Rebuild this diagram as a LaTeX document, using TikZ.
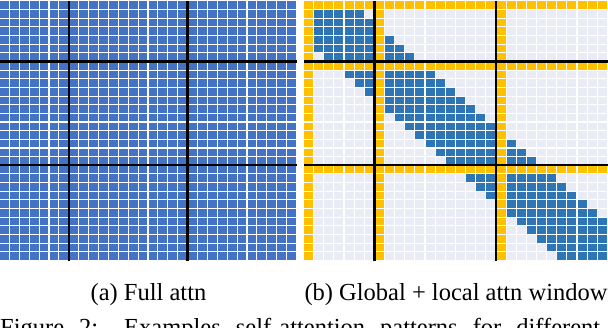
\documentclass[tikz,border=0pt]{standalone}
\usepackage{fontspec}
\setmainfont{Liberation Serif}
\definecolor{fullblue}{RGB}{68,114,196}
\definecolor{localblue}{RGB}{46,117,182}
\definecolor{globalyellow}{RGB}{255,192,0}
\definecolor{emptygray}{RGB}{233,235,245}
\usetikzlibrary{positioning}
\tikzset{
    cell/.style={fill=#1},
    blocksep/.style={draw=black, line width=2.4pt},
    caption/.style={font=\fontsize{24.5}{29}\selectfont, text=black, inner sep=0pt}
}

\begin{document}
\begin{tikzpicture}[x=1pt, y=-1pt]
    \useasboundingbox (0,0) rectangle (608,328);
    \clip (0,0) rectangle (608,328);

    % (a) Full attention - every cell filled
    \foreach \r in {0,...,29}{
        \foreach \c in {0,...,29}{
            \fill[cell=fullblue] (\c*9.9, 1.5+\r*8.65) rectangle ++(8.8, 7.55);
        }
    }

    % (b) Global tokens (0, 7, 19) + local window of 4
    \foreach \r in {0,...,29}{
        \foreach \c in {0,...,29}{
            \pgfmathtruncatemacro{\isglob}{(\r==0)||(\r==7)||(\r==19)||(\c==0)||(\c==7)||(\c==19)}
            \pgfmathtruncatemacro{\inwin}{abs(\r-\c)<=4}
            \ifnum\isglob=1 \def\cellcol{globalyellow}\else\ifnum\inwin=1 \def\cellcol{localblue}\else\def\cellcol{emptygray}\fi\fi
            \fill[cell=\cellcol] (304+\c*10.13, 1.5+\r*8.65) rectangle ++(9.03, 7.55);
        }
    }

    % Block separators
    \foreach \k in {7,19}{
        \draw[blocksep] (\k*9.9-0.55, 1.5) -- ++(0, 259.5);
        \draw[blocksep] (0, 1.5+\k*8.65-0.55) -- ++(297, 0);
        \draw[blocksep] (304+\k*10.13-0.55, 1.5) -- ++(0, 259.5);
        \draw[blocksep] (304, 1.5+\k*8.65-0.55) -- ++(304, 0);
    }

    % Captions
    \node[caption, anchor=base] (capfull) at (148.5, 300.5) {(a) Full attn};
    \node[caption, anchor=base] (capglobal) at (456, 300.5) {(b) Global + local attn window};
    \node[caption, anchor=base west] (figcap) at (0, 336)
        {\makebox[600pt][s]{Figure 2: Examples self-attention patterns for different}};

\end{tikzpicture}
\end{document}
